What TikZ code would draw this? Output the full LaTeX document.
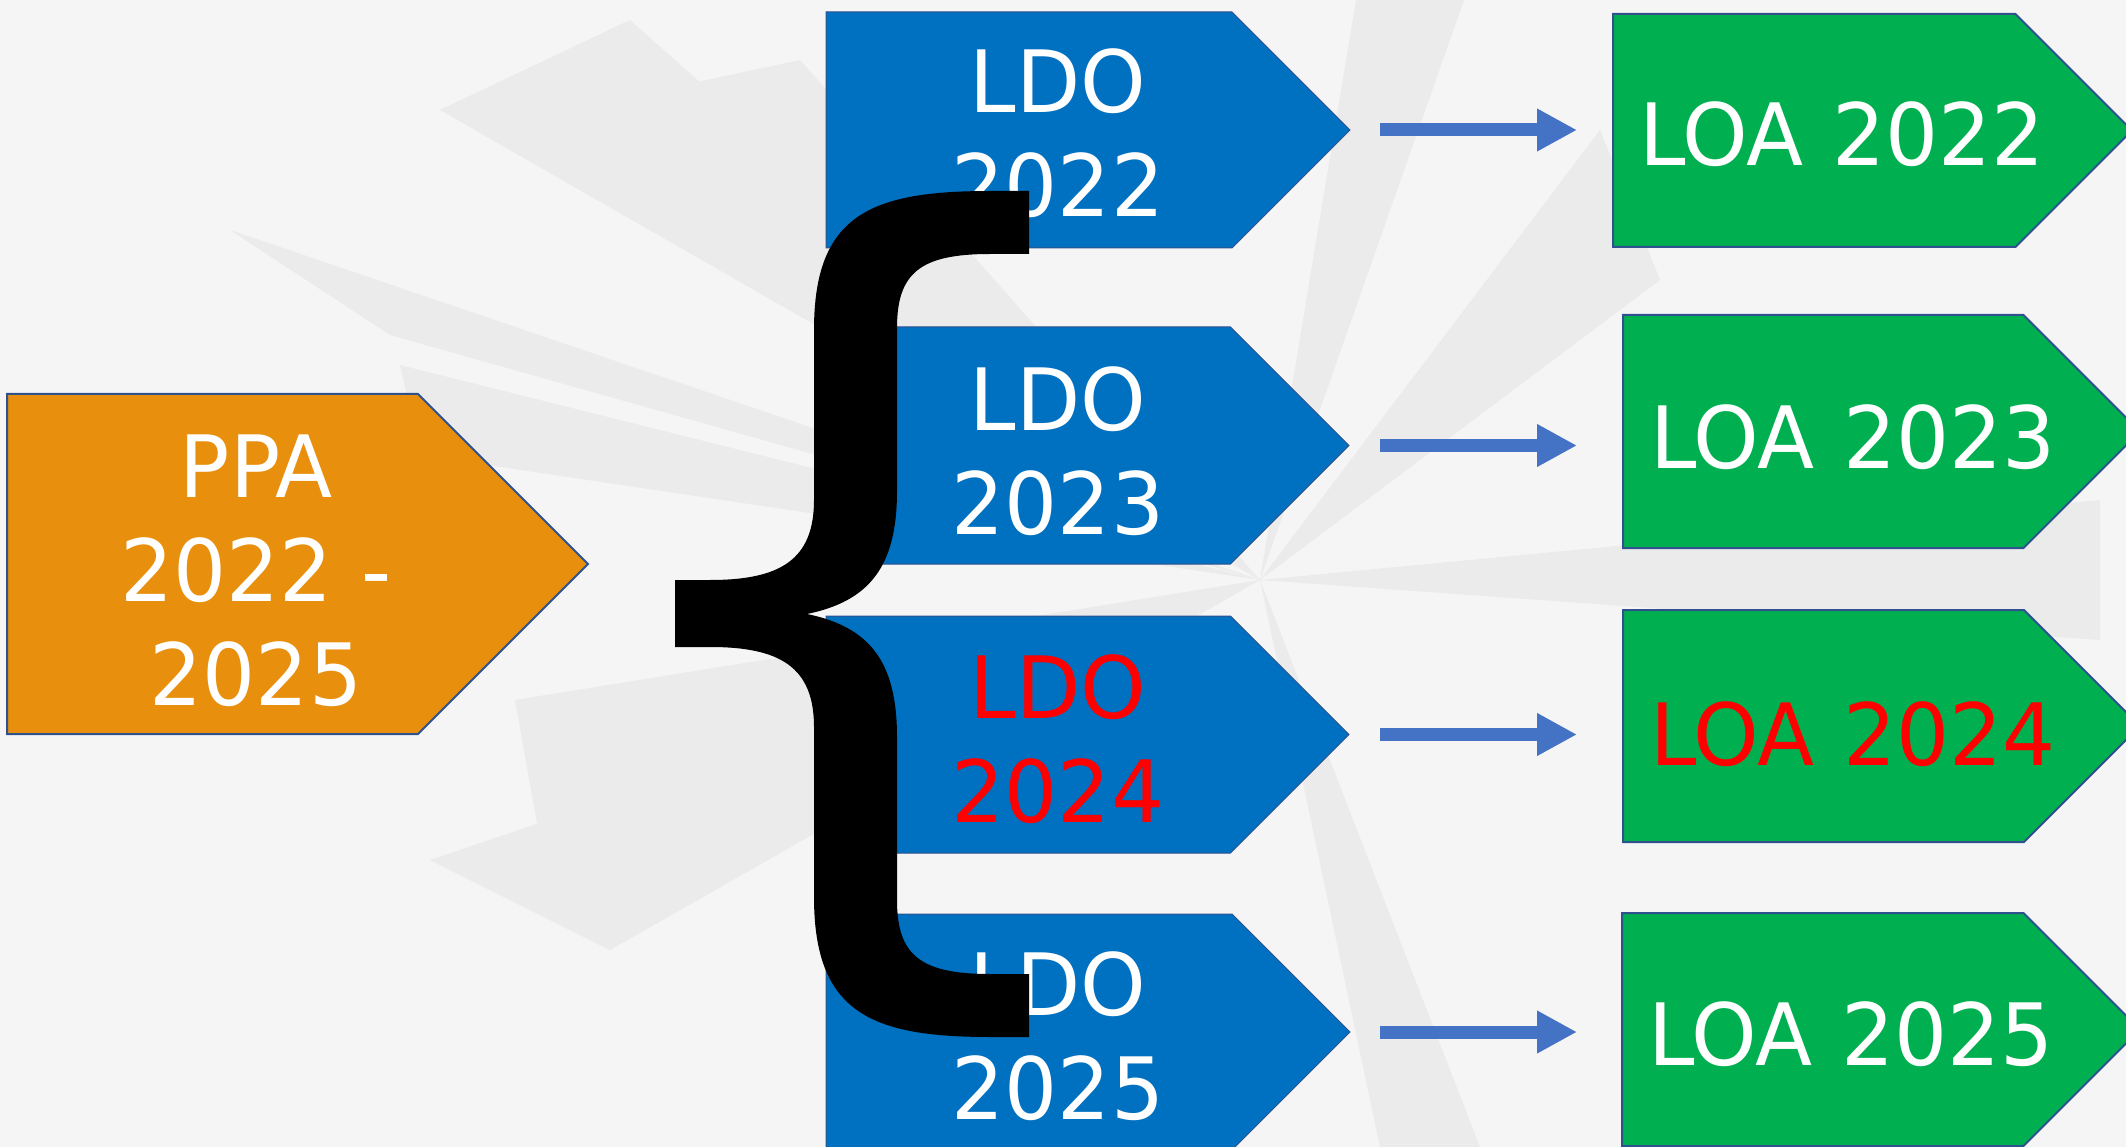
\documentclass[tikz,border=0pt]{standalone}
\usepackage{fontspec}
\newfontfamily\dvs[FakeStretch=0.97]{DejaVu Sans}
\usetikzlibrary{arrows.meta}
\definecolor{bgbase}{HTML}{F5F5F5}
\definecolor{bgray}{HTML}{EBEBEB}
\definecolor{ppaorange}{HTML}{E8900D}
\definecolor{ldoblue}{HTML}{0070C0}
\definecolor{loagreen}{HTML}{00B050}
\definecolor{edgeblue}{HTML}{2F528F}
\definecolor{arrowblue}{HTML}{4472C4}
\definecolor{hotred}{HTML}{FF0000}
\tikzset{
  ppabox/.style={fill=ppaorange, draw=edgeblue, line width=2pt},
  ldobox/.style={fill=ldoblue, draw=edgeblue, line width=1pt},
  loabox/.style={fill=loagreen, draw=edgeblue, line width=2pt},
  lbl/.style={anchor=base, text=white, inner sep=0pt, align=center, text width=520pt,
              font=\dvs\fontsize{86}{104}\selectfont},
  redlbl/.style={lbl, text=hotred},
  conn/.style={draw=arrowblue, line width=13pt, -{Triangle[length=40pt,width=40pt]}},
  bracefill/.style={fill=black},
}
% #1 name, #2 left, #3 top, #4 tip x, #5 bottom, #6 style
\newcommand\chevbox[6]{%
  \path[#6] (#2,#3) -- ({#4-(#5-#3)/2},#3) -- (#4,{(#3+#5)/2}) -- ({#4-(#5-#3)/2},#5) -- (#2,#5) -- cycle;
  \coordinate (#1-w) at (#2,{(#3+#5)/2});
  \coordinate (#1-e) at (#4,{(#3+#5)/2});
}
\begin{document}
\begin{tikzpicture}[x=1pt, y=-1pt]
\useasboundingbox (0,0) rectangle (2126,1147);
\clip (0,0) rectangle (2126,1147);
\fill[bgbase] (0,0) rectangle (2126,1147);
% faint background rays
\begin{scope}[bgray]
\fill (1260,580) -- (440,110) -- (630,20) -- cycle;
\fill (1260,580) -- (520,120) -- (800,60) -- cycle;
\fill (1260,580) -- (230,230) -- (390,335) -- cycle;
\fill (1260,580) -- (400,365) -- (420,455) -- cycle;
\fill (1260,580) -- (515,700) -- (540,840) -- cycle;
\fill (1260,580) -- (430,860) -- (610,950) -- cycle;
\fill (1260,580) -- (1356,0) -- (1464,0) -- cycle;
\fill (1260,580) -- (1600,130) -- (1660,280) -- cycle;
\fill (1260,580) -- (2100,500) -- (2100,640) -- cycle;
\fill (1260,580) -- (1380,1147) -- (1480,1147) -- cycle;
\end{scope}

% PPA
\chevbox{ppa}{7}{394}{588}{734}{ppabox}
\node[lbl] (ppa-t) at (256,497) {PPA\\2022 -\\2025};

% LDO boxes
\chevbox{ldo1}{826}{12}{1350}{248}{ldobox}
\chevbox{ldo2}{826}{327}{1349}{564}{ldobox}
\chevbox{ldo3}{826}{616}{1349}{853}{ldobox}
\chevbox{ldo4}{826}{914}{1350}{1150}{ldobox}
\node[lbl] (ldo1-t) at (1058,113) {LDO\\2022};
\node[lbl] (ldo2-t) at (1058,431) {LDO\\2023};
\node[redlbl] (ldo3-t) at (1058,718) {LDO\\2024};
\node[lbl] (ldo4-t) at (1058,1015) {LDO\\2025};

% LOA boxes
\chevbox{loa1}{1613}{14}{2132}{247}{loabox}
\chevbox{loa2}{1623}{315}{2140}{548}{loabox}
\chevbox{loa3}{1623}{610}{2140}{842}{loabox}
\chevbox{loa4}{1622}{913}{2140}{1146}{loabox}
\node[lbl] (loa1-t) at (1842,166) {LOA 2022};
\node[lbl] (loa2-t) at (1853,468) {LOA 2023};
\node[redlbl] (loa3-t) at (1853,765) {LOA 2024};
\node[lbl] (loa4-t) at (1851,1065) {LOA 2025};

% arrows
\draw[conn] ([xshift=30pt]ldo1-e) -- ([xshift=-36pt]ldo1-e -| loa1-w);
\draw[conn] ([xshift=31pt]ldo2-e) -- ([xshift=-46pt]ldo2-e -| loa2-w);
\draw[conn] ([xshift=31pt]ldo3-e) -- ([xshift=-46pt]ldo3-e -| loa3-w);
\draw[conn] ([xshift=30pt]ldo4-e) -- ([xshift=-45pt]ldo4-e -| loa4-w);

% big brace
\path[bracefill]
  (1029,191) -- (990,191) .. controls (870,191) and (814,215) .. (814,330)
  -- (814,500) .. controls (814,560) and (780,580) .. (710,580)
  -- (675,580) -- (675,647) -- (710,647)
  .. controls (780,647) and (814,667) .. (814,727)
  -- (814,897) .. controls (814,1012) and (870,1037) .. (990,1037)
  -- (1029,1037) -- (1029,974) -- (990,974)
  .. controls (920,974) and (897,955) .. (897,900)
  -- (897,737) .. controls (897,662) and (870,627) .. (807,614)
  .. controls (870,601) and (897,566) .. (897,491)
  -- (897,328) .. controls (897,273) and (920,254) .. (990,254)
  -- (1029,254) -- cycle;
\end{tikzpicture}
\end{document}
